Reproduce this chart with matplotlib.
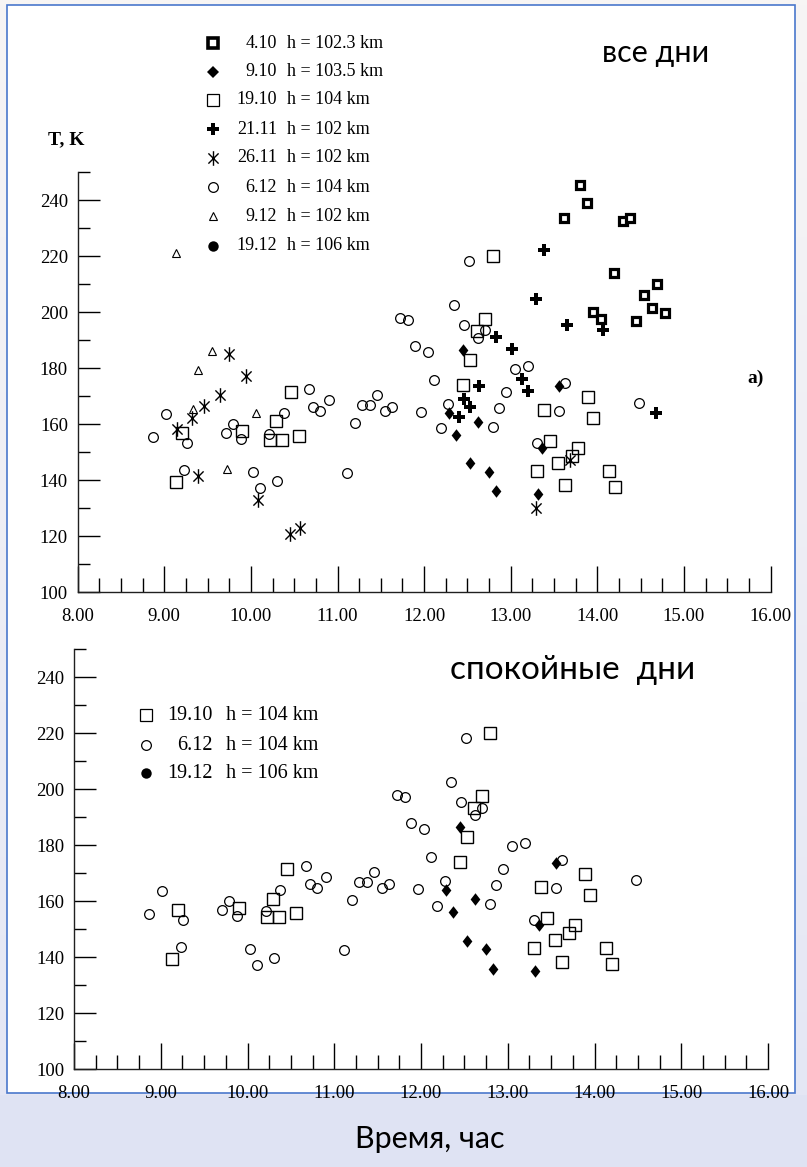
import matplotlib.pyplot as plt
import numpy as np
from matplotlib.lines import Line2D
from matplotlib.patches import Rectangle
from matplotlib.colors import LinearSegmentedColormap
from matplotlib.path import Path

plt.rcParams['font.family'] = ['Liberation Serif', 'DejaVu Serif']

W, H = 807, 1167

# 4.10  h = 102.3 km
t_0410 = [13.80, 13.88, 13.62, 14.30, 14.38, 14.19, 14.69, 14.54, 14.63, 14.78, 14.45, 13.95, 14.04]
T_0410 = [245.4, 239.2, 233.7, 232.5, 233.7, 214.2, 210.2, 206.1, 201.5, 199.8, 196.8, 200.1, 197.7]

# 9.10  h = 103.5 km (no points survive on the plot)
t_0910 = []
T_0910 = []

# 19.10  h = 104 km
t_1910 = [9.13, 9.20, 9.90, 10.22, 10.29, 10.36, 10.46, 10.56, 12.45, 12.53, 12.61, 12.70, 12.79,
          13.30, 13.38, 13.45, 13.55, 13.63, 13.71, 13.78, 13.89, 13.95, 14.13, 14.20]
T_1910 = [139.5, 157.0, 157.7, 154.4, 161.0, 154.4, 171.4, 155.8, 174.2, 183.1, 193.2, 197.6, 220.2,
          143.2, 165.2, 154.0, 146.1, 138.4, 148.6, 151.6, 169.8, 162.1, 143.2, 137.7]

# 21.11  h = 102 km
t_2111 = [13.39, 13.29, 13.65, 14.07, 12.83, 13.02, 12.63, 13.13, 13.20, 12.46, 12.53, 12.40, 14.68]
T_2111 = [222.4, 204.9, 195.4, 193.8, 191.2, 186.8, 173.6, 176.3, 171.8, 169.2, 166.2, 162.6, 164.2]

# 26.11  h = 102 km
t_2611 = [9.15, 9.32, 9.39, 9.46, 9.64, 9.75, 9.94, 10.08, 10.45, 10.57, 13.29, 13.68]
T_2611 = [158.2, 162.1, 141.5, 166.5, 170.5, 185.1, 177.4, 133.0, 121.0, 123.0, 130.0, 147.3]

# 6.12  h = 104 km
t_0612 = [8.87, 9.02, 9.23, 9.26, 9.71, 9.79, 9.88, 10.03, 10.11, 10.21, 10.30, 10.38, 10.67,
          10.72, 10.80, 10.90, 11.11, 11.20, 11.28, 11.38, 11.46, 11.55, 11.63, 11.72, 11.81,
          11.89, 11.96, 12.04, 12.11, 12.19, 12.28, 12.35, 12.46, 12.52, 12.62, 12.70, 12.79,
          12.87, 12.95, 13.05, 13.20, 13.30, 13.56, 13.63, 14.48]
T_0612 = [155.5, 163.8, 143.7, 153.3, 157.0, 160.0, 154.8, 143.1, 137.2, 156.6, 139.9, 164.2, 172.5,
          166.2, 164.7, 168.6, 142.7, 160.4, 166.8, 166.8, 170.6, 164.8, 166.2, 197.8, 197.2,
          187.8, 164.3, 185.8, 175.8, 158.5, 167.2, 202.6, 195.5, 218.3, 190.8, 193.5, 158.9,
          165.8, 171.6, 179.8, 180.7, 153.2, 164.8, 174.8, 167.7]

# 9.12  h = 102 km
t_0912 = [9.14, 9.33, 9.39, 9.55, 9.72, 10.06]
T_0912 = [221.3, 165.4, 179.4, 186.2, 144.0, 163.9]

# 19.12  h = 106 km
t_1912 = [12.45, 13.56, 12.29, 12.62, 12.37, 12.53, 12.75, 12.83, 13.31, 13.36]
T_1912 = [186.6, 173.8, 164.0, 160.8, 156.3, 146.0, 143.1, 136.0, 135.1, 151.4]

diamond = [(0, 1), (0.78, 0), (0, -1), (-0.78, 0), (0, 1)]
asterisk = Path([(0, -1), (0, 1), (-0.7, -0.7), (0.7, 0.7), (-0.7, 0.7), (0.7, -0.7)],
                [Path.MOVETO, Path.LINETO, Path.MOVETO, Path.LINETO, Path.MOVETO, Path.LINETO])

styles = {
    '4.10': dict(marker='s', ms=5.6, mfc='white', mec='black', mew=2.3),
    '9.10': dict(marker='D', ms=6.5, mfc='black', mec='black', mew=0),
    '19.10': dict(marker='s', ms=8.6, mfc='none', mec='black', mew=1.0),
    '21.11': dict(marker='P', ms=9.0, mfc='black', mec='black', mew=0),
    '26.11': dict(marker=asterisk, ms=10.5, mfc='none', mec='black', mew=1.0),
    '6.12': dict(marker='o', ms=7.0, mfc='none', mec='black', mew=0.9),
    '9.12': dict(marker='^', ms=6.2, mfc='none', mec='black', mew=0.8),
    '19.12': dict(marker=diamond, ms=9.0, mfc='black', mec='black', mew=0),
}

legend_top = [('4.10', 'h = 102.3 km'), ('9.10', 'h = 103.5 km'), ('19.10', 'h = 104 km'),
              ('21.11', 'h = 102 km'), ('26.11', 'h = 102 km'), ('6.12', 'h = 104 km'),
              ('9.12', 'h = 102 km'), ('19.12', 'h = 106 km')]
legend_bottom = [('19.10', 'h = 104 km'), ('6.12', 'h = 104 km'), ('19.12', 'h = 106 km')]

# legend icons differ a little from the plotted symbols
legend_marks = dict(styles)
legend_marks['4.10'] = dict(marker='s', ms=6.6, mfc='white', mec='black', mew=2.6)
legend_marks['19.10'] = dict(marker='s', ms=8.0, mfc='white', mec='black', mew=0.9)
legend_marks['19.12'] = dict(marker='o', ms=7.5, mfc='black', mec='black', mew=0)


def fx(x):
    return x / W


def fy(y):
    return 1 - y / H


fig = plt.figure(figsize=(W / 100, H / 100), dpi=100)

# page background, frame and caption band
bg = fig.add_axes([0, 0, 1, 1], zorder=-10)
bg.axis('off')
cmap = LinearSegmentedColormap.from_list('page', ['#e3e6f4', '#f7f5f4'])
bg.imshow(np.linspace(0, 1, 256)[:, None], aspect='auto', cmap=cmap, origin='lower',
          extent=[0, 1, 0, 1])
fig.add_artist(Rectangle((0, 0), 1, fy(1095), transform=fig.transFigure,
                         facecolor='#dfe3f3', edgecolor='none', zorder=-5))
fig.add_artist(Rectangle((fx(7), fy(1093)), fx(795) - fx(7), fy(5) - fy(1093),
                         transform=fig.transFigure, facecolor='white',
                         edgecolor='#4a78cc', linewidth=1.2, zorder=-4))


def setup_axis(ax):
    ax.patch.set_alpha(0)
    ax.set_xlim(8, 16)
    ax.set_ylim(100, 250)
    for s in ['top', 'right']:
        ax.spines[s].set_visible(False)
    for s in ['left', 'bottom']:
        ax.spines[s].set_linewidth(1.0)
        ax.spines[s].set_color('#202020')
    hours = np.arange(8, 16.01, 1)
    ax.set_xticks(hours)
    ax.set_xticklabels(['%.2f' % h for h in hours])
    ax.set_xticks(np.arange(8, 16.01, 0.25), minor=True)
    ax.set_yticks(np.arange(100, 241, 20))
    ax.set_yticks(np.arange(110, 251, 20), minor=True)
    ax.tick_params(axis='x', which='major', direction='in', length=19, width=1.0,
                   pad=11, labelsize=13.5)
    ax.tick_params(axis='x', which='minor', direction='in', length=10, width=1.0)
    ax.tick_params(axis='y', which='major', direction='in', length=16, width=1.0,
                   pad=7, labelsize=13.5)
    ax.tick_params(axis='y', which='minor', direction='in', length=8.6, width=1.0)


ax1 = fig.add_axes([fx(77.7), fy(592.3), fx(770.5) - fx(77.7), fy(172.3) - fy(592.3)])
setup_axis(ax1)
all_days = [('4.10', t_0410, T_0410), ('9.10', t_0910, T_0910), ('19.10', t_1910, T_1910),
            ('21.11', t_2111, T_2111), ('26.11', t_2611, T_2611), ('6.12', t_0612, T_0612),
            ('9.12', t_0912, T_0912), ('19.12', t_1912, T_1912)]
for name, t, T in all_days:
    ax1.plot(t, T, linestyle='none', clip_on=False, **styles[name])

ax2 = fig.add_axes([fx(74), fy(1069.3), fx(768) - fx(74), fy(649.3) - fy(1069.3)])
setup_axis(ax2)
quiet_days = [('19.10', t_1910, T_1910), ('6.12', t_0612, T_0612), ('19.12', t_1912, T_1912)]
for name, t, T in quiet_days:
    ax2.plot(t, T, linestyle='none', clip_on=False, **styles[name])

# hand-placed legends: icon, right-aligned date, height
rows_top = [43, 72, 100, 129, 158, 187, 216, 246]
for (day, h), y in zip(legend_top, rows_top):
    fig.add_artist(Line2D([fx(213)], [fy(y)], transform=fig.transFigure,
                          linestyle='none', **legend_marks[day]))
    fig.text(fx(277), fy(y), day, ha='right', va='center', fontsize=13)
    fig.text(fx(287), fy(y), h, ha='left', va='center', fontsize=13)

rows_bottom = [715, 745, 773]
for (day, h), y in zip(legend_bottom, rows_bottom):
    fig.add_artist(Line2D([fx(146)], [fy(y)], transform=fig.transFigure,
                          linestyle='none', **legend_marks[day]))
    fig.text(fx(213), fy(y), day, ha='right', va='center', fontsize=14.5)
    fig.text(fx(226), fy(y), h, ha='left', va='center', fontsize=14.5)

fig.text(fx(66), fy(140), 'T, K', ha='center', va='center', fontsize=14, fontweight='bold')
fig.text(fx(756), fy(378), 'a)', ha='center', va='center', fontsize=14, fontweight='bold')

fig.text(fx(656), fy(62), 'все дни', ha='center', va='baseline', fontsize=22,
         family=['Lato', 'DejaVu Sans'])
fig.text(fx(573), fy(679), 'спокойные  дни', ha='center', va='baseline', fontsize=24,
         family=['Lato', 'DejaVu Sans'])
fig.text(fx(430), fy(1148), 'Время, час', ha='center', va='baseline', fontsize=22,
         family=['Lato', 'DejaVu Sans'])

fig.savefig('out.png', dpi=100)
